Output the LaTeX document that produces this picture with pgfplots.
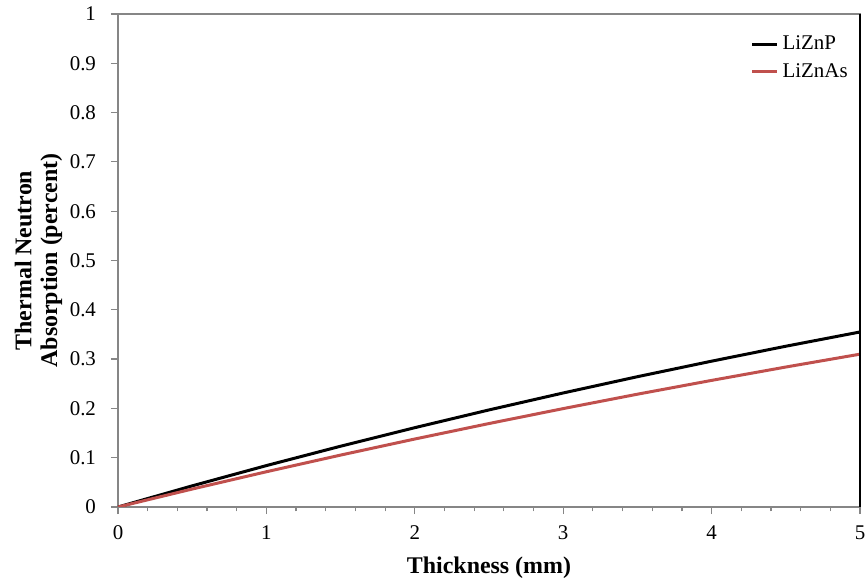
\documentclass[border=0pt]{standalone}
\usepackage{fontspec}
\setmainfont{Liberation Serif}
\usepackage{pgfplots}
\pgfplotsset{compat=1.18}
\definecolor{axgray}{RGB}{134,134,134}
\definecolor{xlred}{RGB}{192,80,77}
\begin{document}
\begin{tikzpicture}
\useasboundingbox (-59bp,-37bp) rectangle (373.5bp,253.5bp);
\begin{axis}[
  scale only axis,
  width=371bp, height=246.5bp,
  xmin=0, xmax=5, ymin=0, ymax=1,
  xtick={0,1,2,3,4,5},
  ytick={0,0.1,0.2,0.3,0.4,0.5,0.6,0.7,0.8,0.9,1},
  minor x tick num=4,
  xtick pos=bottom, ytick pos=left,
  tick align=outside,
  major tick length=3.5bp,
  minor tick length=2.2bp,
  every tick/.style={axgray, line width=0.6bp},
  axis line style={axgray, line width=0.8bp},
  /pgf/number format/assume math mode=true,
  yticklabel style={font=\fontsize{10.5}{12}\selectfont, /pgf/number format/fixed, /pgf/number format/precision=1, xshift=-4bp},
  xticklabel style={font=\fontsize{10.5}{12}\selectfont, yshift=-2.5bp},
  xlabel={Thickness (mm)},
  ylabel={Thermal Neutron\\Absorption (percent)},
  xlabel style={font=\fontsize{12}{14}\selectfont\bfseries, at={(axis description cs:0.5,0)}, anchor=base, yshift=-33bp},
  ylabel style={font=\fontsize{12}{13}\selectfont\bfseries, align=center, at={(axis description cs:-0.1071,0.5)}, anchor=center},
  legend style={draw=none, fill=none, at={(axis description cs:0.852,0.973)}, anchor=north west, font=\fontsize{10.5}{12}\selectfont, inner xsep=0pt, row sep=1.5bp},
  legend cell align=left,
  legend image code/.code={\draw[#1] (0bp,0bp) -- (12.5bp,0bp);},
  after end axis/.code={\draw[black, line width=0.8bp] (rel axis cs:1,0) -- (rel axis cs:1,1);},
]
\addplot[black, line width=1.5bp] coordinates {
(0,0) (0.5,0.0429) (1,0.0840) (1.5,0.1233) (2,0.1609) (2.5,0.1969) (3,0.2313) (3.5,0.2643) (4,0.2958) (4.5,0.3261) (5,0.3550)};
\addlegendentry{LiZnP}
\addplot[xlred, line width=1.5bp] coordinates {
(0,0) (0.5,0.0364) (1,0.0715) (1.5,0.1053) (2,0.1379) (2.5,0.1693) (3,0.1996) (3.5,0.2288) (4,0.2568) (4.5,0.2839) (5,0.3100)};
\addlegendentry{LiZnAs}
\end{axis}
\end{tikzpicture}
\end{document}
